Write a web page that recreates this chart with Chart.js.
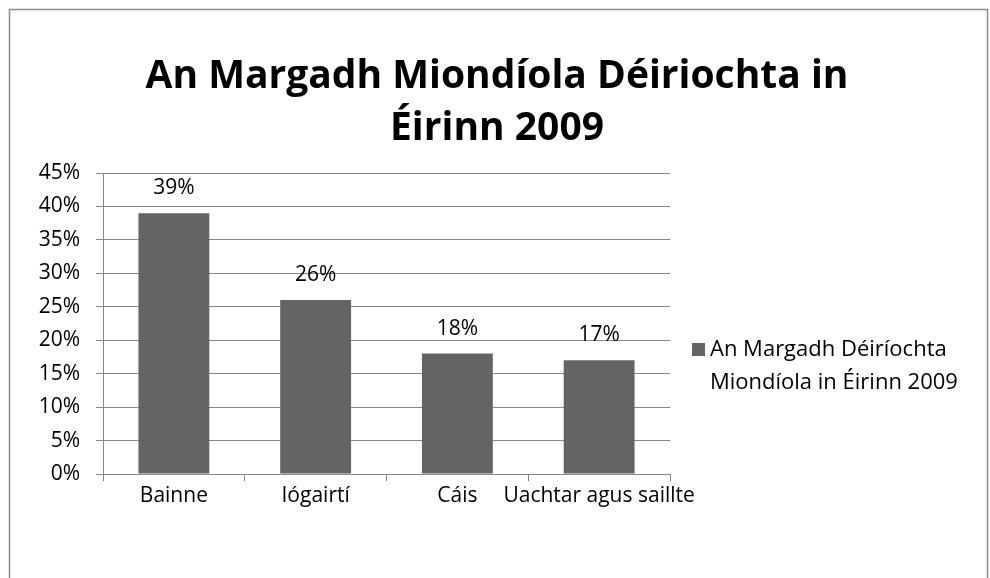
<!DOCTYPE html>
<html>
<head>
<meta charset="utf-8">
<style>
  html, body { margin: 0; padding: 0; background: #fff; }
  #wrap { width: 990px; height: 578px; position: relative; }
</style>
<script src="https://cdn.jsdelivr.net/npm/chart.js@4.4.1/dist/chart.umd.min.js"></script>
</head>
<body>
<div id="wrap"><canvas id="myChart" width="990" height="578"></canvas></div>
<script>
const categories = ["Bainne", "Iógairtí", "Cáis", "Uachtar agus saillte"];
const shares = [39, 26, 18, 17];
const seriesName = ["An Margadh Déiríochta", "Miondíola in Éirinn 2009"];
const titleLines = ["An Margadh Miondíola Déiriochta in", "Éirinn 2009"];
const yTicks = [0, 5, 10, 15, 20, 25, 30, 35, 40, 45];

const FONT = "'Open Sans', sans-serif";
const barColor = "#646464";
const gridColor = "#888888";

// frame, title, value labels and legend drawn on top
const decorations = {
  id: "decorations",
  afterDraw(chart) {
    const ctx = chart.ctx;
    ctx.save();

    ctx.strokeStyle = "#8c8c8c";
    ctx.lineWidth = 1.5;
    ctx.strokeRect(9.5, 9.5, 978, 600);

    ctx.fillStyle = "#000";
    ctx.textAlign = "center";
    ctx.textBaseline = "middle";
    ctx.font = "bold 39px " + FONT;
    ctx.fillText(titleLines[0], 497, 77);
    ctx.fillText(titleLines[1], 497, 129);

    const meta = chart.getDatasetMeta(0);
    ctx.font = "21px " + FONT;
    meta.data.forEach((bar, i) => {
      ctx.fillText(shares[i] + "%", bar.x, bar.y - 25);
    });

    ctx.fillStyle = barColor;
    ctx.fillRect(692, 343, 13, 13);
    ctx.fillStyle = "#000";
    ctx.textAlign = "left";
    ctx.font = "22px " + FONT;
    ctx.fillText(seriesName[0], 710, 350);
    ctx.fillText(seriesName[1], 710, 383);
    ctx.restore();
  },
};

new Chart(document.getElementById("myChart").getContext("2d"), {
  type: "bar",
  data: {
    labels: categories,
    datasets: [
      {
        label: seriesName.join(" "),
        data: shares,
        backgroundColor: barColor,
        barPercentage: 0.5,
        categoryPercentage: 1.0,
      },
    ],
  },
  options: {
    responsive: false,
    animation: false,
    layout: { padding: { top: 173, right: 320, left: 0, bottom: 0 } },
    plugins: {
      legend: { display: false },
      title: { display: false },
      tooltip: { enabled: false },
    },
    scales: {
      x: {
        offset: true,
        grid: {
          offset: true,
          drawOnChartArea: false,
          drawTicks: true,
          tickLength: 7,
          color: gridColor,
        },
        border: { color: gridColor, width: 1 },
        ticks: {
          color: "#000",
          font: { family: FONT, size: 21 },
          padding: 2,
          autoSkip: false,
          maxRotation: 0,
          minRotation: 0,
        },
        afterFit(scale) { scale.height = 104; },
      },
      y: {
        min: 0,
        max: 45,
        afterBuildTicks(scale) { scale.ticks = yTicks.map((v) => ({ value: v })); },
        grid: { color: gridColor, tickLength: 7 },
        border: { color: gridColor, width: 1 },
        ticks: {
          color: "#000",
          font: { family: FONT, size: 21 },
          padding: 16,
          callback: (v) => v + "%",
        },
        afterFit(scale) { scale.width = 103; },
      },
    },
  },
  plugins: [decorations],
});
</script>
</body>
</html>
